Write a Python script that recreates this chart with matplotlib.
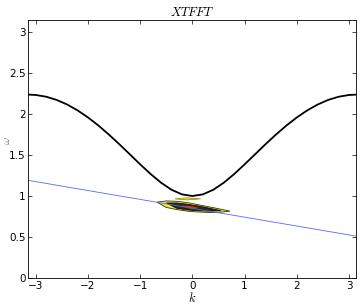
import matplotlib.pyplot as plt

# dispersion curve (symmetric about k = 0)
k_half = [0.0, 0.2, 0.4, 0.6, 0.8, 1.0, 1.2, 1.4, 1.6, 1.8, 2.0, 2.2, 2.4, 2.6, 2.8, 3.0, 3.1416]
w_half = [1.0, 1.0197, 1.0760, 1.1616, 1.2675, 1.3854, 1.5084, 1.6310, 1.7488,
          1.8586, 1.9576, 2.0438, 2.1154, 2.1711, 2.2101, 2.2316, 2.2361]
curve_k = [-k for k in k_half[::-1]] + k_half[1:]
curve_w = w_half[::-1] + w_half[1:]

# straight blue line
line_k = [-3.1416, 3.1416]
line_w = [1.19, 0.51]

# contour blob outlines (k, omega)
outer_k = [-0.68, -0.5, -0.3, -0.1, 0.1, 0.3, 0.5, 0.72, 0.5, 0.3, 0.1, -0.1, -0.3, -0.5, -0.68]
outer_w = [0.925, 0.94, 0.935, 0.92, 0.895, 0.87, 0.845, 0.815, 0.8, 0.8, 0.805, 0.815, 0.835, 0.86, 0.925]
inner_k = [-0.5, -0.3, -0.1, 0.1, 0.3, 0.55, 0.3, 0.1, -0.1, -0.3, -0.5]
inner_w = [0.915, 0.915, 0.9, 0.88, 0.855, 0.82, 0.815, 0.82, 0.83, 0.85, 0.915]
core_k = [-0.2, -0.05, 0.1, -0.05, -0.2]
core_w = [0.88, 0.875, 0.855, 0.85, 0.88]
sliver_k = [-0.34, -0.1, 0.16, -0.1, -0.34]
sliver_w = [0.965, 0.978, 0.965, 0.952, 0.965]

xticks = [-3, -2, -1, 0, 1, 2, 3]
yticks = [0, 0.5, 1, 1.5, 2, 2.5, 3]


def main():
    plt.rcParams["mathtext.fontset"] = "cm"
    fig = plt.figure(figsize=(3.6, 3.06), dpi=100)
    ax = fig.add_axes([0.079, 0.0915, 0.911, 0.842])

    ax.plot(line_k, line_w, color="#4d6bff", lw=0.6)
    ax.fill(outer_k, outer_w, facecolor="#e8e84a", edgecolor="#333300", lw=0.6)
    ax.fill(inner_k, inner_w, facecolor="#2a2a1a", edgecolor="black", lw=0.5)
    ax.fill(core_k, core_w, facecolor="#e04020", edgecolor="#c03010", lw=0.5)
    ax.fill(sliver_k, sliver_w, facecolor="#e8e84a", edgecolor="#888800", lw=0.5)
    ax.plot(curve_k, curve_w, color="black", lw=1.3)

    ax.set_xlim(-3.1416, 3.1416)
    ax.set_ylim(0, 3.1416)
    ax.set_xticks(xticks)
    ax.set_yticks(yticks)
    ax.set_xticklabels(["\u22123", "\u22122", "\u22121", "0", "1", "2", "3"])
    ax.set_yticklabels(["0", "0.5", "1", "1.5", "2", "2.5", "3"])
    ax.tick_params(direction="in", top=True, right=True, length=3, width=0.5,
                   labelsize=7.5, pad=2)
    for spine in ax.spines.values():
        spine.set_linewidth(0.6)

    ax.set_title("$XTFFT$", fontsize=9, pad=3)
    ax.set_xlabel("$k$", fontsize=9, labelpad=0)
    ax.set_ylabel("$\\omega$", fontsize=8, color="#777777")
    ax.yaxis.set_label_coords(-0.05, 0.535)

    fig.savefig("out.png", dpi=100)
    plt.close(fig)


if __name__ == "__main__":
    main()
